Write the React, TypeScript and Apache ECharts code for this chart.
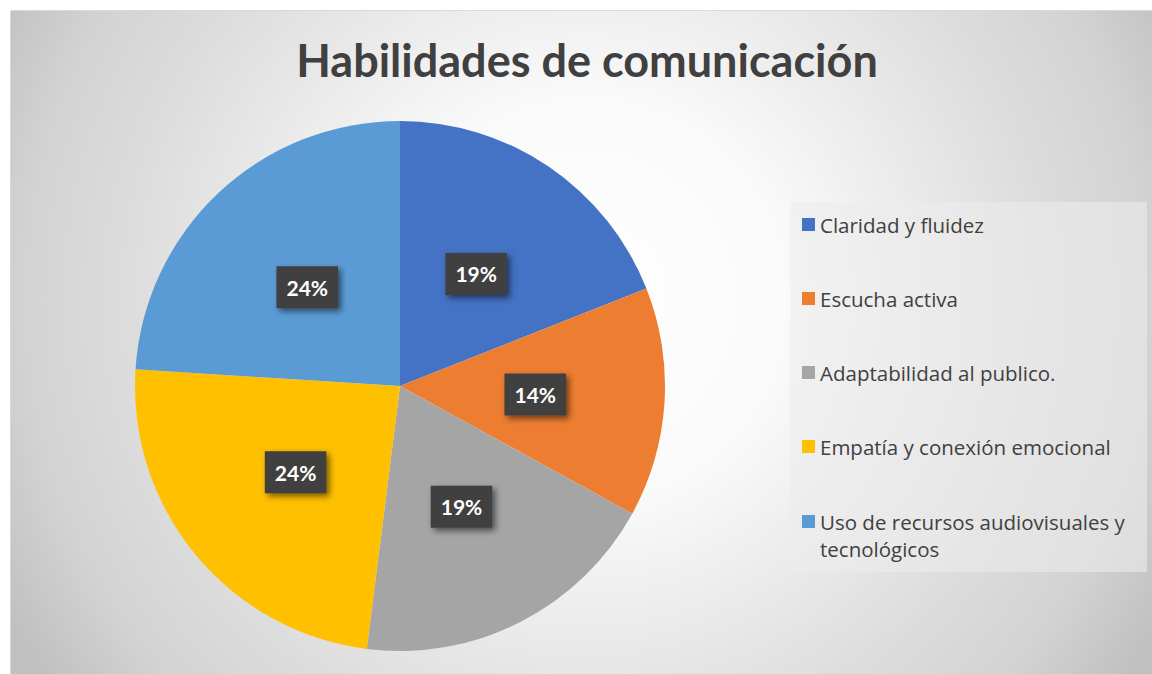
import React, { useEffect, useRef } from "react";
import * as echarts from "echarts";

const TITLE = "Habilidades de comunicación";
const categories = [
  "Claridad y fluidez",
  "Escucha activa",
  "Adaptabilidad al publico.",
  "Empatía y conexión emocional",
  "Uso de recursos audiovisuales y tecnológicos",
];
const values = [19, 14, 19, 24, 24];
const colors = ["#4472C4", "#ED7D31", "#A5A5A5", "#FFC000", "#5B9BD5"];

export default function App() {
  const ref = useRef<HTMLDivElement>(null);
  useEffect(() => {
    if (!ref.current) return;
    const chart = echarts.init(ref.current, null, { renderer: "svg" });
    const total = values.reduce((a, b) => a + b, 0);
    const legendText = {
      fontFamily: "Open Sans",
      fontSize: 20.5,
      lineHeight: 27,
      color: "#404040",
    };
    const legendCommon = {
      orient: "vertical",
      left: 802,
      padding: 0,
      itemWidth: 13,
      itemHeight: 13,
      itemGap: 47,
      icon: "rect",
      textStyle: legendText,
    };
    chart.setOption({
      animation: false,
      graphic: [
        {
          type: "rect",
          z: -10,
          silent: true,
          shape: { x: 10.5, y: 10.5, width: 1170, height: 690 },
          style: {
            fill: {
              type: "radial",
              x: 586,
              y: 300,
              r: 660,
              global: true,
              colorStops: [
                { offset: 0, color: "#ffffff" },
                { offset: 0.3, color: "#fafafa" },
                { offset: 0.7, color: "#dcdcdc" },
                { offset: 0.85, color: "#d3d3d3" },
                { offset: 1, color: "#c0c0c0" },
              ],
            },
            stroke: "#d9d9d9",
            lineWidth: 1,
          },
        },
        {
          type: "rect",
          z: -5,
          silent: true,
          shape: { x: 790, y: 202, width: 357, height: 370 },
          style: { fill: "rgba(236,236,236,0.58)" },
        },
      ],
      title: {
        text: TITLE,
        left: 582,
        textAlign: "center",
        top: 32,
        textStyle: {
          fontFamily: "Lato",
          fontWeight: "bold",
          fontSize: 45,
          color: "#404040",
        },
      },
      legend: [
        {
          ...legendCommon,
          top: 211,
          data: categories.slice(0, 4),
        },
        {
          ...legendCommon,
          top: 481,
          data: categories.slice(4),
          formatter: () => "\nUso de recursos audiovisuales y\ntecnológicos",
        },
      ],
      series: [
        {
          type: "pie",
          center: [400, 386],
          radius: 265,
          startAngle: 90,
          clockwise: true,
          avoidLabelOverlap: false,
          data: categories.map((c, i) => ({
            name: c,
            value: values[i],
            itemStyle: { color: colors[i] },
          })),
          label: {
            show: true,
            position: "inside",
            formatter: (p: any) => Math.round((p.value / total) * 100) + "%",
            fontFamily: "Lato",
            fontWeight: "bold",
            fontSize: 21,
            color: "#ffffff",
            backgroundColor: "#404040",
            padding: [11, 10, 10, 10],
            shadowColor: "rgba(0,0,0,0.55)",
            shadowBlur: 6,
            shadowOffsetX: 3,
            shadowOffsetY: 3,
            textShadowColor: "transparent",
          },
          labelLine: { show: false },
          emphasis: { disabled: true },
        },
      ],
    });
    return () => chart.dispose();
  }, []);
  return (
    <div
      ref={ref}
      style={{ position: "fixed", left: 0, top: 0, width: 1152, height: 674, background: "#ffffff" }}
    />
  );
}
